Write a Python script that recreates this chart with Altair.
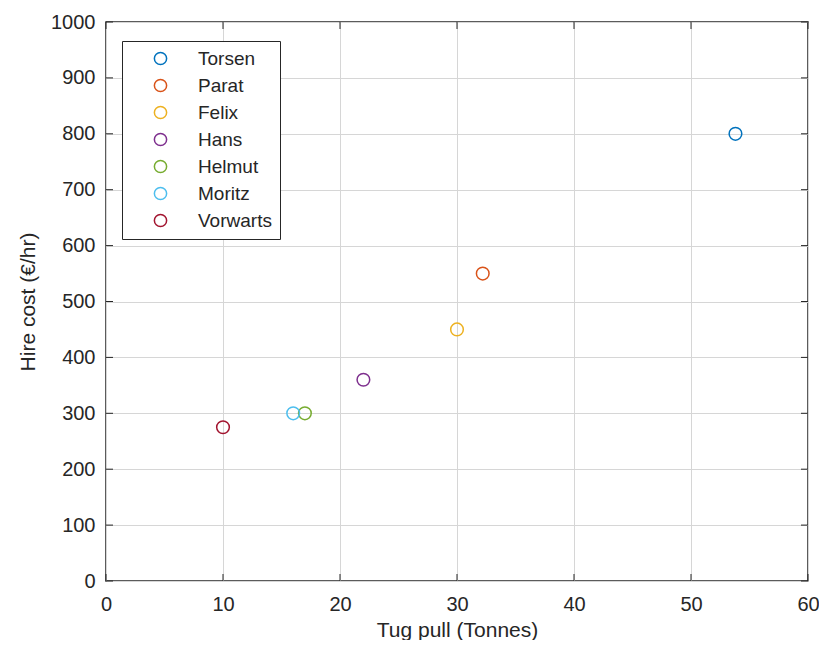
import altair as alt
import pandas as pd

# ---- data ----
tugs = ["Torsen", "Parat", "Felix", "Hans", "Helmut", "Moritz", "Vorwarts"]
pull_tonnes = [53.8, 32.2, 30.0, 22.0, 17.0, 16.0, 10.0]
hire_cost = [800, 550, 450, 360, 300, 300, 275]
tug_colors = ["#0072BD", "#D95319", "#EDB120", "#7E2F8E", "#77AC30", "#4DBEEE", "#A2142F"]
x_ticks = [0, 10, 20, 30, 40, 50, 60]
y_ticks = [0, 100, 200, 300, 400, 500, 600, 700, 800, 900, 1000]

df = pd.DataFrame({"tug": tugs, "pull": pull_tonnes, "cost": hire_cost})
xt = pd.DataFrame({"pull": x_ticks})
yt = pd.DataFrame({"cost": y_ticks})

W, H = 702, 559
FONT = "Liberation Sans"
INK = "#262626"
TICK = 7

x_scale = alt.Scale(domain=[0, 60], nice=False, zero=False)
y_scale = alt.Scale(domain=[0, 1000], nice=False, zero=False)
x_axis = alt.Axis(values=x_ticks, title="Tug pull (Tonnes)", ticks=False, domain=False,
                  grid=True, labelPadding=13, titlePadding=5, labelFlush=False, format="d")
y_axis = alt.Axis(values=y_ticks, title="Hire cost (€/hr)", ticks=False, domain=False,
                  grid=True, labelPadding=11, titlePadding=12, labelFlush=False, format="d")

X = alt.X("pull:Q", scale=x_scale, axis=x_axis)
Y = alt.Y("cost:Q", scale=y_scale, axis=y_axis)

points = alt.Chart(df).mark_point(
    shape="circle", filled=False, size=160, strokeWidth=1.5, opacity=1
).encode(
    x=X,
    y=Y,
    color=alt.Color(
        "tug:N",
        scale=alt.Scale(domain=tugs, range=tug_colors),
        legend=alt.Legend(
            title=None, orient="none", legendX=16, legendY=19,
            strokeColor=INK, fillColor="white", padding=8,
            symbolType="circle", symbolSize=150, symbolStrokeWidth=1.5,
            symbolFillColor="transparent", symbolOffset=21, labelOffset=28,
            labelFontSize=19, labelFont=FONT, labelColor=INK, rowPadding=7,
        ),
    ),
)

tick_style = dict(color=INK, strokeWidth=1)
x_bottom = alt.Chart(xt).mark_rule(**tick_style).encode(x=X, y=alt.value(H), y2=alt.value(H - TICK))
x_top = alt.Chart(xt).mark_rule(**tick_style).encode(x=X, y=alt.value(0), y2=alt.value(TICK))
y_left = alt.Chart(yt).mark_rule(**tick_style).encode(y=Y, x=alt.value(0), x2=alt.value(TICK))
y_right = alt.Chart(yt).mark_rule(**tick_style).encode(y=Y, x=alt.value(W), x2=alt.value(W - TICK))

chart = alt.layer(x_bottom, x_top, y_left, y_right, points).properties(
    width=W, height=H,
    autosize=alt.AutoSizeParams(type="none"),
    padding={"left": 98, "top": 14, "right": 11, "bottom": 59},
    background="white",
).configure_view(
    stroke=INK, strokeWidth=1.5
).configure_axis(
    labelFont=FONT, titleFont=FONT, labelFontSize=20, titleFontSize=21,
    titleFontWeight="normal", labelColor=INK, titleColor=INK,
    gridColor="#d6d6d6", gridWidth=1,
)

chart.save("out.html", embed_options={"renderer": "svg", "actions": False})
